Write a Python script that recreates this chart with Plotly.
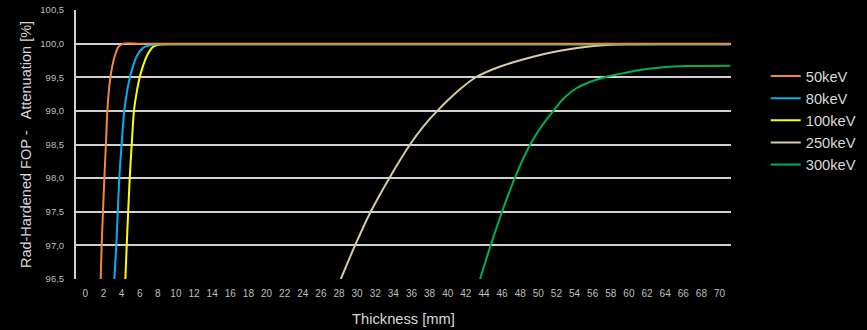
import plotly.graph_objects as go

# Data (thickness in mm, attenuation in %)
series_names = ["50keV", "80keV", "100keV", "250keV", "300keV"]
series_colors = ["#F0883C", "#00B0F0", "#FFFF00", "#D6CCA8", "#00B050"]

thick_50 = [1.7, 1.8, 1.95, 2.1, 2.27, 2.43, 2.62, 2.77, 3.0, 3.28, 3.65, 4.2, 6.0, 15.0, 71.2]
att_50 = [96.5, 97.0, 97.5, 98.0, 98.5, 99.0, 99.33, 99.5, 99.68, 99.83, 99.95, 100.0, 100.0, 100.0, 100.0]

thick_80 = [3.2, 3.42, 3.58, 3.75, 4.0, 4.3, 4.62, 4.92, 5.3, 5.74, 6.4, 7.3, 8.2, 15.0, 71.2]
att_80 = [96.5, 97.0, 97.5, 98.0, 98.5, 99.0, 99.3, 99.5, 99.68, 99.83, 99.94, 99.98, 99.99, 99.99, 99.99]

thick_100 = [4.42, 4.57, 4.73, 4.9, 5.12, 5.37, 5.7, 6.0, 6.4, 6.84, 7.5, 8.25, 10.0, 15.0, 71.2]
att_100 = [96.5, 97.0, 97.5, 98.0, 98.5, 99.0, 99.3, 99.5, 99.68, 99.83, 99.955, 99.985, 99.99, 99.99, 99.99]

thick_250 = [28.2, 29.77, 31.5, 33.55, 35.84, 37.25, 38.85, 41.35, 43.1, 45.8, 48.7, 52.4, 56.1, 59.8, 65.0, 71.2]
att_250 = [96.5, 97.0, 97.5, 98.0, 98.5, 98.76, 99.0, 99.32, 99.5, 99.66, 99.78, 99.895, 99.965, 99.99, 99.995, 99.995]

thick_300 = [43.57, 44.74, 46.0, 47.4, 49.1, 50.3, 51.66, 52.76, 54.24, 55.7, 57.36, 59.0, 60.86, 62.7, 64.5, 66.4, 71.2]
att_300 = [96.5, 97.0, 97.5, 98.0, 98.5, 98.76, 99.0, 99.18, 99.34, 99.43, 99.5, 99.55, 99.6, 99.633, 99.657, 99.667, 99.672]

x_ticks = list(range(0, 71, 2))
y_ticks = [96.5, 97.0, 97.5, 98.0, 98.5, 99.0, 99.5, 100.0, 100.5]

xs = [thick_50, thick_80, thick_100, thick_250, thick_300]
ys = [att_50, att_80, att_100, att_250, att_300]

FONT = "Liberation Sans, Arial, Helvetica, sans-serif"

fig = go.Figure()
# draw in reverse so that 50keV is on top; legend reversed to keep order
for name, color, x, y in reversed(list(zip(series_names, series_colors, xs, ys))):
    fig.add_trace(go.Scatter(
        x=x, y=y, name=name, mode="lines",
        line=dict(color=color, width=2, shape="spline", smoothing=0.8),
    ))

fig.update_layout(
    width=867, height=330,
    paper_bgcolor="#000000", plot_bgcolor="#000000",
    margin=dict(l=76, r=136, t=10, b=51, autoexpand=False),
    separators=",.",
    font=dict(family=FONT, color="#BFBFBF"),
    legend=dict(
        traceorder="reversed",
        x=1.053, xanchor="left", y=0.814, yanchor="top",
        font=dict(size=14.7, color="#D9D9D9", family=FONT),
        bgcolor="rgba(0,0,0,0)",
        tracegroupgap=0,
    ),
    showlegend=True,
)

fig.update_xaxes(
    range=[-1.03, 71.27], automargin=False,
    tickmode="array", tickvals=x_ticks, ticktext=[str(v) for v in x_ticks],
    showgrid=False, zeroline=False, showline=False,
    ticks="", ticklabelstandoff=7, tickfont=dict(size=10, color="#BFBFBF"),
    title=dict(text="Thickness [mm]", font=dict(size=14.7, color="#D9D9D9"), standoff=15),
)
fig.update_yaxes(
    range=[96.5, 100.5], automargin=False,
    tickmode="array", tickvals=y_ticks, tickformat=".1f",
    showgrid=True, gridcolor="#D0D0D0", gridwidth=2,
    zeroline=False, showline=True, linecolor="#D0D0D0", linewidth=2,
    ticks="", ticklen=0, ticklabelstandoff=8, tickfont=dict(size=9.5, color="#BFBFBF"),
    title=dict(text="Rad-Hardened FOP -\u00a0\u00a0 Attenuation [%]",
               font=dict(size=14.5, color="#D9D9D9"), standoff=5),
)

fig.write_html("out.html", config={"displayModeBar": False},
               post_script="document.body.style.margin='0px';")
